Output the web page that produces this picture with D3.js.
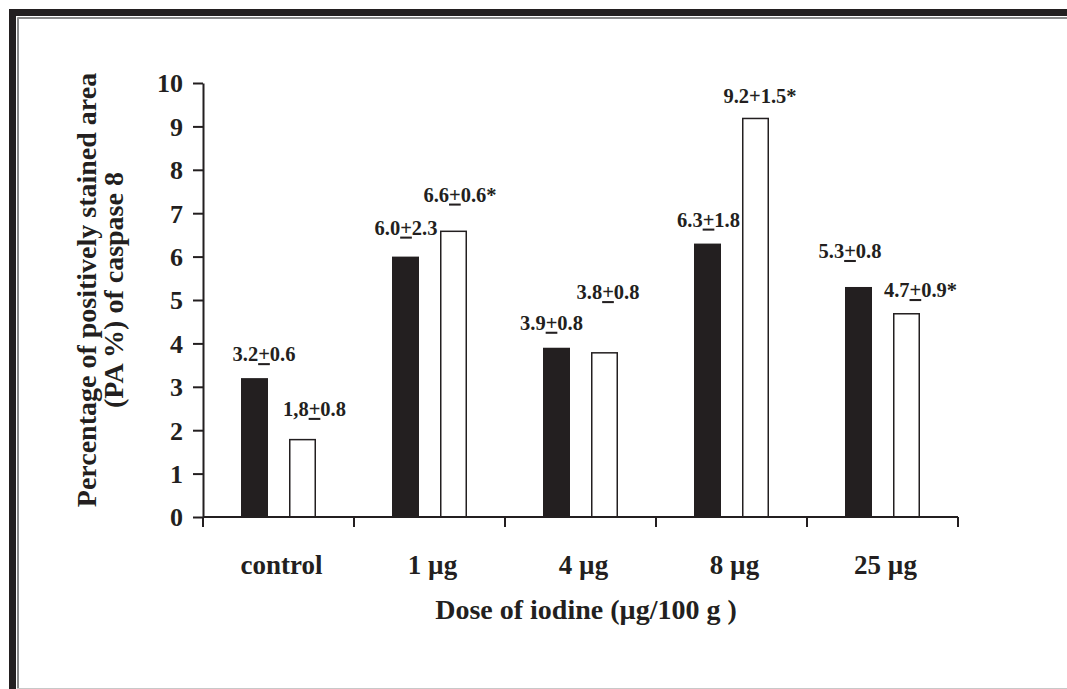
<!DOCTYPE html>
<html>
<head>
<meta charset="utf-8">
<script src="https://cdn.jsdelivr.net/npm/d3@7"></script>
<style>
  html, body { margin: 0; padding: 0; background: #fff; }
  svg text { font-family: "Liberation Serif", "Times New Roman", serif; font-weight: bold; fill: #231f20; }
</style>
</head>
<body>
<div id="chart"></div>
<script>
// Chart data
const categories = ['control', '1 µg', '4 µg', '8 µg', '25 µg'];
const seriesBlack = [3.2, 6.0, 3.9, 6.3, 5.3];
const seriesWhite = [1.8, 6.6, 3.8, 9.2, 4.7];
// "±" is drawn as an underlined plus, as in the source figure
const labelsBlack = ['3.2±0.6', '6.0±2.3', '3.9±0.8', '6.3±1.8', '5.3±0.8'];
const labelsWhite = ['1,8±0.8', '6.6±0.6*', '3.8±0.8', '9.2+1.5*', '4.7±0.9*'];
const yTicks = [0, 1, 2, 3, 4, 5, 6, 7, 8, 9, 10];

// label placement relative to bar top centre (px)
const labelShiftBlack = [[9.5, -17], [0.5, -22], [-5, -18], [1, -17], [-8.5, -29]];
const labelShiftWhite = [[12, -23], [6.5, -29], [3.5, -53], [4.5, -15], [14, -16]];

const W = 1067, H = 689;
const ink = '#231f20';

const svg = d3.select('#chart').append('svg')
    .attr('width', W).attr('height', H);

// Frame
svg.append('rect').attr('x', 9).attr('y', 9).attr('width', W - 9).attr('height', 7).attr('fill', ink);
svg.append('rect').attr('x', 9).attr('y', 9).attr('width', 7).attr('height', H - 9).attr('fill', ink);
svg.append('line').attr('x1', 17.5).attr('y1', 18).attr('x2', W).attr('y2', 18)
    .attr('stroke', '#8a8a8a').attr('stroke-width', 2);
svg.append('line').attr('x1', 18).attr('y1', 17.5).attr('x2', 18).attr('y2', H)
    .attr('stroke', '#8a8a8a').attr('stroke-width', 2);
svg.append('line').attr('x1', 17).attr('y1', 688.5).attr('x2', W).attr('y2', 688.5)
    .attr('stroke', '#c8c8c8').attr('stroke-width', 1);

// Scales
const x = d3.scaleBand().domain(categories).range([203, 958]).paddingInner(0).paddingOuter(0);
const sub = d3.scaleBand().domain(['black', 'white']).range([38, 113]).paddingInner(21 / 48).paddingOuter(0);
const y = d3.scaleLinear().domain([0, 10]).range([517, 83]);

// Bars
const g = svg.append('g');
categories.forEach((c, i) => {
    const x0 = x(c);
    g.append('rect')
        .attr('x', x0 + sub('black'))
        .attr('y', y(seriesBlack[i]))
        .attr('width', sub.bandwidth())
        .attr('height', y(0) - y(seriesBlack[i]))
        .attr('fill', ink);
    g.append('rect')
        .attr('x', x0 + sub('white') + 0.75)
        .attr('y', y(seriesWhite[i]) + 0.75)
        .attr('width', sub.bandwidth() - 1.5)
        .attr('height', y(0) - y(seriesWhite[i]) - 0.75)
        .attr('fill', '#fff')
        .attr('stroke', ink)
        .attr('stroke-width', 1.5);
});

// Value labels
function addLabel(str, cx, by) {
    const t = g.append('text')
        .attr('x', cx).attr('y', by)
        .attr('text-anchor', 'middle')
        .style('font-size', '20.5px');
    const parts = str.split('±');
    if (parts.length === 2) {
        t.append('tspan').text(parts[0]);
        t.append('tspan').text('+').style('text-decoration', 'underline');
        t.append('tspan').text(parts[1]);
    } else {
        t.text(str);
    }
}
categories.forEach((c, i) => {
    const x0 = x(c);
    const cb = x0 + sub('black') + sub.bandwidth() / 2;
    const cw = x0 + sub('white') + sub.bandwidth() / 2;
    addLabel(labelsBlack[i], cb + labelShiftBlack[i][0], y(seriesBlack[i]) + labelShiftBlack[i][1]);
    addLabel(labelsWhite[i], cw + labelShiftWhite[i][0], y(seriesWhite[i]) + labelShiftWhite[i][1]);
});

// Y axis
const yAxis = svg.append('g')
    .attr('transform', 'translate(203,0)')
    .call(d3.axisLeft(y).tickValues(yTicks).tickSize(10).tickPadding(10).tickSizeOuter(0));
yAxis.select('.domain').attr('stroke', ink).attr('stroke-width', 2);
yAxis.selectAll('.tick line').attr('stroke', ink).attr('stroke-width', 2);
yAxis.selectAll('.tick text').style('font-size', '26px').attr('dy', '0.34em');

// X axis: ticks at category boundaries
const bounds = categories.map(c => x(c)).concat([x.range()[1]]);
const xAxis = svg.append('g').attr('transform', 'translate(0,517)');
xAxis.append('line').attr('x1', 203).attr('x2', 958).attr('y1', 0).attr('y2', 0)
    .attr('stroke', ink).attr('stroke-width', 2);
xAxis.selectAll('line.tk').data(bounds).enter().append('line')
    .attr('class', 'tk')
    .attr('x1', d => d).attr('x2', d => d).attr('y1', 0).attr('y2', 10)
    .attr('stroke', ink).attr('stroke-width', 2);
xAxis.selectAll('text.cat').data(categories).enter().append('text')
    .attr('class', 'cat')
    .attr('x', d => x(d) + x.bandwidth() / 2 + 3)
    .attr('y', 57)
    .attr('text-anchor', 'middle')
    .style('font-size', '27px')
    .text(d => d);

// Axis titles
svg.append('text')
    .attr('x', 586).attr('y', 619)
    .attr('text-anchor', 'middle')
    .style('font-size', '28px')
    .text('Dose of iodine (µg/100 g )');

const yt = svg.append('text')
    .attr('transform', 'translate(96,290) rotate(-90)')
    .attr('text-anchor', 'middle')
    .style('font-size', '28px');
yt.append('tspan').attr('x', 0).attr('dy', 0).text('Percentage of positively stained area');
yt.append('tspan').attr('x', 0).attr('dy', 27).text('(PA %) of caspase 8');
</script>
</body>
</html>
